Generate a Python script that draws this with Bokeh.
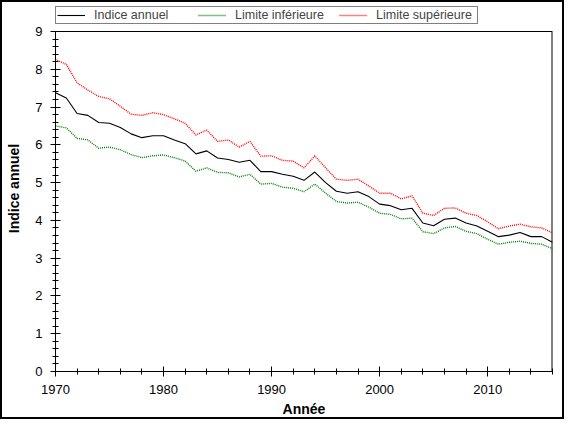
import numpy as np
from bokeh.plotting import figure
from bokeh.models import Range1d, SingleIntervalTicker, Legend, LegendItem, Span
from bokeh.embed import file_html
from bokeh.resources import INLINE

# Annual index with its confidence limits
years = list(range(1970, 2017))
indice = [7.38, 7.24, 6.83, 6.78, 6.59, 6.57, 6.46, 6.29, 6.19, 6.24,
          6.24, 6.13, 6.03, 5.76, 5.84, 5.65, 5.61, 5.54, 5.59, 5.29,
          5.29, 5.22, 5.17, 5.06, 5.28, 5.00, 4.77, 4.72, 4.76, 4.63,
          4.43, 4.39, 4.28, 4.32, 3.93, 3.86, 4.03, 4.06, 3.93, 3.85,
          3.71, 3.57, 3.61, 3.68, 3.57, 3.57, 3.42]
limite_inf = [6.50, 6.45, 6.17, 6.13, 5.91, 5.94, 5.87, 5.74, 5.66, 5.71,
              5.73, 5.66, 5.57, 5.30, 5.39, 5.27, 5.26, 5.15, 5.22, 4.96,
              4.98, 4.88, 4.85, 4.76, 4.96, 4.72, 4.50, 4.46, 4.48, 4.35,
              4.19, 4.16, 4.04, 4.06, 3.70, 3.65, 3.80, 3.84, 3.71, 3.65,
              3.50, 3.37, 3.42, 3.45, 3.39, 3.37, 3.25]
limite_sup = [8.26, 8.13, 7.64, 7.45, 7.28, 7.22, 7.02, 6.81, 6.78, 6.85,
              6.80, 6.69, 6.57, 6.26, 6.39, 6.09, 6.13, 5.94, 6.09, 5.70,
              5.71, 5.59, 5.57, 5.39, 5.71, 5.39, 5.09, 5.06, 5.09, 4.91,
              4.72, 4.72, 4.57, 4.65, 4.19, 4.13, 4.32, 4.33, 4.19, 4.13,
              3.96, 3.78, 3.85, 3.90, 3.83, 3.80, 3.67]

FONT = "Liberation Sans"
x_start, x_end = 1970, 2016
y_max = 9

# frame is stretched above the data area to leave room for the legend
data_px = 340
extra_px = 26
y_top = y_max + extra_px * y_max / data_px

p = figure(frame_width=497, frame_height=data_px + extra_px,
           min_border_left=55, min_border_right=12,
           min_border_top=5, min_border_bottom=48,
           x_range=Range1d(x_start, x_end), y_range=Range1d(0, y_top),
           x_axis_label="Année", y_axis_label="Indice annuel",
           toolbar_location=None, output_backend="svg")

p.styles = {"box-shadow": "inset 0 0 0 2px black"}
p.border_fill_alpha = 0
p.background_fill_alpha = 0
p.outline_line_color = None
p.grid.visible = False

p.xaxis.ticker = SingleIntervalTicker(interval=10, num_minor_ticks=5)
p.yaxis.ticker = SingleIntervalTicker(interval=1, num_minor_ticks=5)
p.yaxis.bounds = (0, y_max)

for ax in p.axis:
    ax.axis_line_color = "black"
    ax.major_tick_line_color = "black"
    ax.minor_tick_line_color = "black"
    ax.major_tick_in = 5
    ax.major_tick_out = 5
    ax.minor_tick_in = 3
    ax.minor_tick_out = 3
    ax.major_label_standoff = 8
    ax.major_label_text_font = FONT
    ax.major_label_text_font_size = "13px"
    ax.major_label_text_color = "black"
    ax.axis_label_text_font = FONT
    ax.axis_label_text_font_size = "14px"
    ax.axis_label_text_font_style = "bold"
    ax.axis_label_text_color = "black"
p.xaxis.axis_label_standoff = 4
p.yaxis.axis_label_standoff = 10

# top and right edges of the plotting box
p.add_layout(Span(location=y_max, dimension="width", line_color="black", line_width=1))
p.segment(x0=[x_end], y0=[0], x1=[x_end], y1=[y_max], line_color="black", line_width=2)

r_ind = p.line(years, indice, line_color="black", line_width=1.1)
r_inf = p.line(years, limite_inf, line_color="#008000", line_width=1.4, line_dash="1 1")
r_sup = p.line(years, limite_sup, line_color="#ff0000", line_width=1.4, line_dash="1 1")

legend = Legend(items=[LegendItem(label="Indice annuel", renderers=[r_ind]),
                       LegendItem(label="Limite inférieure", renderers=[r_inf]),
                       LegendItem(label="Limite supérieure", renderers=[r_sup])],
                orientation="horizontal", location=(0, data_px + 7),
                border_line_color="black", border_line_width=1,
                background_fill_color="white", background_fill_alpha=1,
                padding=1, spacing=4, margin=0,
                glyph_width=28, glyph_height=12, label_standoff=9,
                label_width=100, label_height=12,
                label_text_font=FONT, label_text_font_size="12.5px")
p.add_layout(legend)

open("out.html", "w").write(file_html(p, INLINE))
